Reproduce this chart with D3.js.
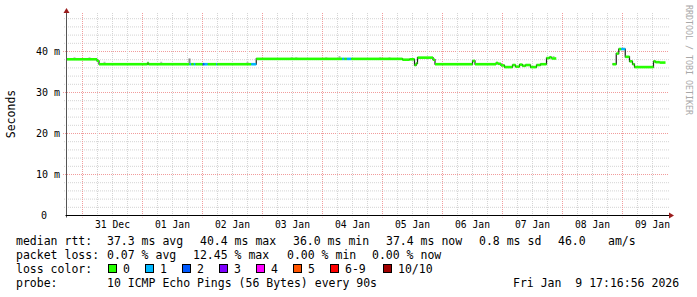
<!DOCTYPE html>
<html>
<head>
<meta charset="utf-8">
<script src="https://cdn.jsdelivr.net/npm/d3@7"></script>
<style>
  html, body { margin: 0; padding: 0; background: #fff; }
  svg { display: block; }
  text { font-family: "DejaVu Sans Mono", monospace; fill: #000; }
</style>
</head>
<body>
<div id="chart"></div>
<script>
(function () {
  'use strict';

  // ---- data ---------------------------------------------------------------
  const START = '2025-12-30 17:36';
  const END   = '2026-01-09 17:36';

  // median rtt as steps: value holds from stepTimes[i] until stepTimes[i+1]
  const stepTimes = [
    '2025-12-30 17:36', '2025-12-31 05:48', '2025-12-31 06:36', '2026-01-01 02:00',
    '2026-01-01 02:24', '2026-01-01 18:48', '2026-01-01 19:30', '2026-01-01 20:30',
    '2026-01-01 21:12', '2026-01-02 00:06', '2026-01-02 00:48', '2026-01-02 02:06',
    '2026-01-02 05:30', '2026-01-02 05:54', '2026-01-02 19:30', '2026-01-02 21:30',
    '2026-01-04 07:54', '2026-01-04 08:48', '2026-01-04 09:42', '2026-01-04 11:30',
    '2026-01-05 08:00', '2026-01-05 10:48', '2026-01-05 12:48', '2026-01-05 13:30',
    '2026-01-05 14:00', '2026-01-05 20:12', '2026-01-05 21:00', '2026-01-06 12:00',
    '2026-01-06 13:00', '2026-01-06 21:24', '2026-01-06 22:12', '2026-01-06 23:24',
    '2026-01-07 00:48', '2026-01-07 04:00', '2026-01-07 05:12', '2026-01-07 06:48',
    '2026-01-07 08:00', '2026-01-07 09:12', '2026-01-07 11:12', '2026-01-07 13:36',
    '2026-01-07 15:12', '2026-01-07 17:36', '2026-01-07 18:48', '2026-01-07 19:36',
    '2026-01-07 21:30', '2026-01-08 20:00', '2026-01-08 21:30', '2026-01-08 22:30',
    '2026-01-08 23:30', '2026-01-09 01:06', '2026-01-09 02:48', '2026-01-09 04:00',
    '2026-01-09 04:48', '2026-01-09 12:24', '2026-01-09 13:12', '2026-01-09 14:48',
    '2026-01-09 17:12'
  ];
  const medianMs = [
    38.1, 37.7, 36.9, 37.2, 36.9, 36.9, 36.9, 36.9,
    36.9, 36.9, 36.9, 36.9, 36.9, 36.9, 36.9, 38.2,
    38.2, 38.2, 38.2, 38.2, 38.0, 38.1, 36.7, 37.1,
    38.5, 38.0, 36.9, 37.7, 36.9, 37.2, 37.0, 36.6,
    36.2, 36.7, 36.3, 36.8, 36.5, 36.7, 36.2, 36.7,
    36.9, 38.4, 38.6, 38.3, null, 36.9, 39.5, 40.6,
    40.6, 38.7, 37.6, 36.9, 36.2, 37.6, 37.4, 37.3,
    null
  ];
  // index into lossColors for each step
  const lossIdx = [
    0, 0, 0, 0, 0, 1, 0, 1,
    0, 2, 1, 0, 1, 0, 1, 0,
    1, 0, 1, 0, 0, 0, 0, 0,
    0, 0, 0, 0, 0, 0, 0, 0,
    0, 0, 0, 0, 0, 0, 0, 0,
    0, 0, 0, 0, null, 0, 0, 0,
    1, 0, 0, 0, 0, 0, 0, 0,
    null
  ];

  // stray smoke (grey) spots
  const smokeTimes = [
    '2025-12-30 20:48', '2025-12-31 02:48', '2025-12-31 08:48', '2026-01-01 07:30',
    '2026-01-01 18:48', '2026-01-02 18:00', '2026-01-03 11:42', '2026-01-03 13:30',
    '2026-01-04 01:30', '2026-01-04 06:48', '2026-01-04 23:06', '2026-01-05 02:48',
    '2026-01-07 20:24'
  ];
  const smokeLo = [38.2, 38.2, 37.2, 37.2, 37.2, 37.2, 38.3, 38.3, 38.3, 38.3, 38.3, 38.3, 38.6];
  const smokeHi = [38.6, 38.6, 37.5, 37.5, 38.3, 37.5, 38.6, 38.6, 38.6, 38.9, 38.6, 38.6, 38.9];

  const yTicks = [0, 10, 20, 30, 40];
  const yTickLabels = ['0', '10 m', '20 m', '30 m', '40 m'];

  const lossLabels = ['0', '1', '2', '3', '4', '5', '6-9', '10/10'];
  const lossColors = ['#26ff00', '#00b8ff', '#0059ff', '#7e00ff', '#ff00ff', '#ff5500', '#ff0000', '#a10000'];

  const rttStats  = ['37.3 ms avg', '40.4 ms max', '36.0 ms min', '37.4 ms now', '0.8 ms sd', '46.0', 'am/s'];
  const lossStats = ['0.07 % avg', '12.45 % max', '0.00 % min', '0.00 % now'];
  const probeText = '10 ICMP Echo Pings (56 Bytes) every 90s';
  const stampText = 'Fri Jan  9 17:16:56 2026';

  // ---- layout ---------------------------------------------------------------
  const W = 697, H = 297;
  const LEFT = 66.5, RIGHT = 666.5, BOTTOM = 215.5, TOP = 13;
  const GRID_RIGHT = 669;
  const MINOR = '#d4d4d4', MAJOR = '#f19c9c';

  const parse = d3.timeParse('%Y-%m-%d %H:%M');
  const t0 = parse(START), t1 = parse(END);

  const x = d3.scaleTime().domain([t0, t1]).range([LEFT, RIGHT]);
  const y = d3.scaleLinear().domain([0, 50]).range([BOTTOM, BOTTOM - 50 * 4.1]);

  const svg = d3.select('#chart').append('svg')
    .attr('width', W).attr('height', H)
    .attr('viewBox', `0 0 ${W} ${H}`);

  svg.append('rect').attr('width', W).attr('height', H).attr('fill', '#fff');

  // horizontal grid
  const hGrid = d3.range(2, 50, 2).filter(v => y(v) >= TOP);
  hGrid.forEach(v => {
    const yy = y(v);
    svg.append('line')
      .attr('x1', v % 10 === 0 ? 63 : 64).attr('x2', GRID_RIGHT)
      .attr('y1', yy).attr('y2', yy)
      .attr('stroke', v % 10 === 0 ? MAJOR : MINOR)
      .attr('stroke-dasharray', '1,1');
  });

  // vertical grid: 6 h minor, midnight major
  d3.timeHour.every(6).range(t0, t1).forEach(t => {
    const xx = Math.round(x(t) - 0.5) + 0.5;
    if (xx <= LEFT + 1) return;
    const major = t.getHours() === 0;
    svg.append('line')
      .attr('x1', xx).attr('x2', xx)
      .attr('y1', TOP).attr('y2', BOTTOM + 2)
      .attr('stroke', major ? MAJOR : MINOR)
      .attr('stroke-dasharray', '1,1');
  });

  // smoke
  smokeTimes.forEach((s, i) => {
    const xx = x(parse(s));
    svg.append('rect')
      .attr('x', xx - 1).attr('width', 2)
      .attr('y', y(smokeHi[i])).attr('height', Math.max(1, y(smokeLo[i]) - y(smokeHi[i])))
      .attr('fill', i === 4 ? '#888' : '#bbb');
  });

  // median line (black step), then loss-coloured band
  const pts = stepTimes.map((s, i) => ({ t: parse(s), v: medianMs[i] }));
  const line = d3.line()
    .defined(d => d.v != null)
    .x(d => x(d.t)).y(d => y(d.v))
    .curve(d3.curveStepAfter);
  svg.append('path')
    .attr('d', line(pts))
    .attr('fill', 'none').attr('stroke', '#202020').attr('stroke-width', 1.2);

  for (let i = 0; i < pts.length - 1; i++) {
    if (pts[i].v == null) continue;
    const xa = x(pts[i].t), xb = x(pts[i + 1].t);
    svg.append('rect')
      .attr('x', xa).attr('width', Math.max(0.8, xb - xa))
      .attr('y', y(pts[i].v) - 1.3).attr('height', 2.6)
      .attr('fill', lossColors[lossIdx[i]]);
  }

  // axes
  svg.append('line')
    .attr('x1', LEFT).attr('x2', LEFT).attr('y1', BOTTOM + 2).attr('y2', TOP - 2)
    .attr('stroke', '#555');
  svg.append('line')
    .attr('x1', LEFT - 1).attr('x2', GRID_RIGHT + 1).attr('y1', BOTTOM).attr('y2', BOTTOM)
    .attr('stroke', '#000');
  svg.append('polygon')
    .attr('points', `${LEFT},8 ${LEFT - 3},13 ${LEFT + 3},13`)
    .attr('fill', '#9a1c1c');
  svg.append('polygon')
    .attr('points', `674,${BOTTOM} 669,${BOTTOM - 3} 669,${BOTTOM + 3}`)
    .attr('fill', '#9a1c1c');

  // y tick labels
  yTicks.forEach((v, i) => {
    svg.append('text')
      .attr('x', v === 0 ? 47 : 60).attr('y', y(v) + 3.5)
      .attr('text-anchor', 'end').attr('font-size', 10)
      .text(yTickLabels[i]);
  });

  svg.append('text')
    .attr('transform', 'translate(15,114) rotate(-90)')
    .attr('text-anchor', 'middle').attr('font-size', 11.5)
    .text('Seconds');

  // x tick labels at noon
  const fmt = d3.timeFormat('%d %b');
  d3.timeDay.range(d3.timeDay.ceil(t0), t1).forEach(d => {
    const noon = d3.timeHour.offset(d, 12);
    if (noon > t1) return;
    svg.append('text')
      .attr('x', x(noon)).attr('y', 228)
      .attr('text-anchor', 'middle').attr('font-size', 9.7)
      .text(fmt(noon));
  });

  // watermark
  svg.append('text')
    .attr('transform', 'translate(686,5) rotate(90)')
    .attr('font-size', 8.3).style('fill', '#a8a8a8')
    .text('RRDTOOL / TOBI OETIKER');

  // legend
  const FS = 11.5;
  const row = (label, yy) => svg.append('text')
    .attr('x', 16).attr('y', yy).attr('font-size', FS).text(label);

  row('median rtt:', 245);
  const rttX = [107, 200, 293, 386, 479, 558, 608];
  rttStats.forEach((s, i) => {
    svg.append('text').attr('x', rttX[i]).attr('y', 245).attr('font-size', FS).text(s);
  });

  row('packet loss:', 259);
  const lossX = [107, 193, 287, 372];
  lossStats.forEach((s, i) => {
    svg.append('text').attr('x', lossX[i]).attr('y', 259).attr('font-size', FS).text(s);
  });

  row('loss color:', 273);
  const boxX = [108.5, 145.5, 182.5, 219.5, 256.5, 293.5, 330.5, 383.5];
  lossLabels.forEach((s, i) => {
    svg.append('rect')
      .attr('x', boxX[i]).attr('y', 264.5).attr('width', 8).attr('height', 8)
      .attr('fill', lossColors[i]).attr('stroke', '#000').attr('stroke-width', 1);
    svg.append('text').attr('x', boxX[i] + 14.5).attr('y', 273).attr('font-size', FS).text(s);
  });

  row('probe:', 287);
  svg.append('text').attr('x', 107).attr('y', 287).attr('font-size', FS).text(probeText);
  svg.append('text').attr('x', 513).attr('y', 287).attr('font-size', FS)
    .style('white-space', 'pre').text(stampText);
})();
</script>
</body>
</html>
